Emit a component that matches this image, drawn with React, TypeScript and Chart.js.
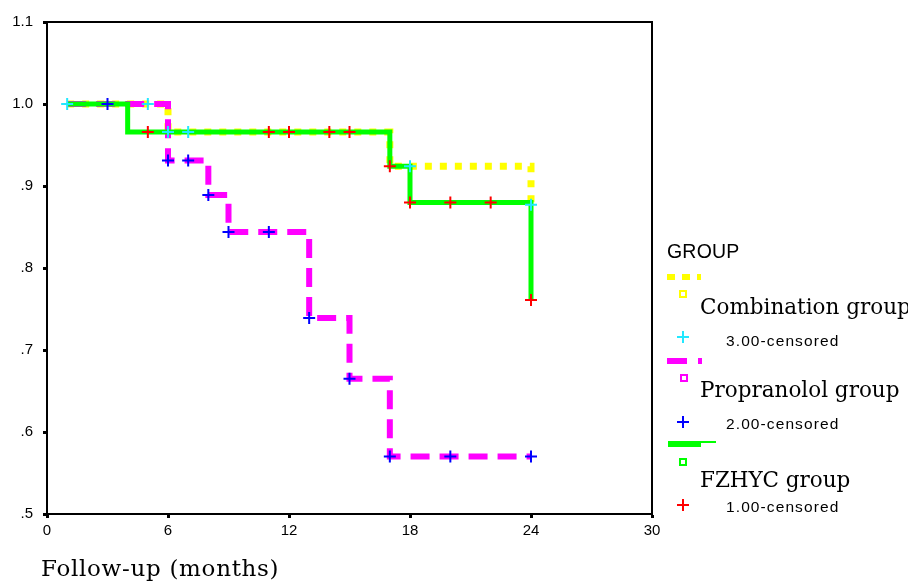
import React, { useEffect, useRef } from 'react';
import { Chart, registerables } from 'chart.js';

Chart.register(...registerables);

// ---- data ----
const xTickValues = [0, 6, 12, 18, 24, 30];
const yTickValues = [0.5, 0.6, 0.7, 0.8, 0.9, 1.0, 1.1];
const yTickLabels = ['.5', '.6', '.7', '.8', '.9', '1.0', '1.1'];

const groupNames = ['Combination group', 'Propranolol group', 'FZHYC group'];
const censorNames = ['3.00-censored', '2.00-censored', '1.00-censored'];

const combinationTimes = [1, 6, 17, 24];
const combinationSurvival = [1.0, 0.966, 0.924, 0.877];
const propranololTimes = [1, 6, 8, 9, 13, 15, 17, 24];
const propranololSurvival = [1.0, 0.931, 0.889, 0.844, 0.739, 0.665, 0.57, 0.57];
const fzhycTimes = [1, 4, 17, 18, 24];
const fzhycSurvival = [1.0, 0.966, 0.924, 0.88, 0.761];

const combinationCensorTimes = [1, 5, 6, 7, 18, 24];
const combinationCensorSurvival = [1.0, 1.0, 0.966, 0.966, 0.924, 0.877];
const propranololCensorTimes = [3, 6, 7, 8, 9, 11, 13, 15, 17, 20, 24];
const propranololCensorSurvival = [1.0, 0.931, 0.931, 0.889, 0.844, 0.844, 0.739, 0.665, 0.57, 0.57, 0.57];
const fzhycCensorTimes = [5, 11, 12, 14, 15, 17, 18, 20, 22, 24];
const fzhycCensorSurvival = [0.966, 0.966, 0.966, 0.966, 0.966, 0.924, 0.88, 0.88, 0.88, 0.761];

const zip = (xs: number[], ys: number[]) => xs.map((x, i) => ({ x, y: ys[i] }));

const YELLOW = '#ffff00';
const MAGENTA = '#ff00ff';
const GREEN = '#00ff00';
const CYAN = '#22e8ff';
const BLUE = '#0000ff';
const RED = '#ff0000';

const framePlugin = {
  id: 'frame',
  afterDraw(chart: any) {
    const { ctx, chartArea } = chart;
    ctx.save();
    ctx.strokeStyle = '#000';
    ctx.lineWidth = 2;
    ctx.beginPath();
    ctx.moveTo(chartArea.left, chartArea.top);
    ctx.lineTo(chartArea.right, chartArea.top);
    ctx.lineTo(chartArea.right, chartArea.bottom);
    ctx.stroke();
    ctx.restore();
  },
};

function Cross({ cx, cy, color }: { cx: number; cy: number; color: string }) {
  return (
    <>
      <div style={{ position: 'absolute', left: cx - 6, top: cy - 1, width: 12, height: 2, background: color }} />
      <div style={{ position: 'absolute', left: cx - 1, top: cy - 6, width: 2, height: 12, background: color }} />
    </>
  );
}

function Box({ x, y, color }: { x: number; y: number; color: string }) {
  return (
    <div
      style={{
        position: 'absolute',
        left: x,
        top: y,
        width: 4,
        height: 4,
        border: `2px solid ${color}`,
      }}
    />
  );
}

function Bar({ x, y, w, h, color }: { x: number; y: number; w: number; h: number; color: string }) {
  return <div style={{ position: 'absolute', left: x, top: y, width: w, height: h, background: color }} />;
}

const serif = '"DejaVu Serif", serif';
const sans = '"Liberation Sans", Arial, sans-serif';

function Label({ text, x, baseline, size, family, spacing }: any) {
  const asc = family === serif ? 0.928 : 0.905;
  const desc = family === serif ? 0.236 : 0.212;
  const lh = size * 1.3;
  const half = (lh - (asc + desc) * size) / 2;
  const top = baseline - (half + asc * size);
  return (
    <div
      style={{
        position: 'absolute',
        left: x,
        top,
        fontFamily: family,
        fontSize: size,
        lineHeight: `${lh}px`,
        letterSpacing: spacing,
        whiteSpace: 'nowrap',
        color: '#000',
      }}
    >
      {text}
    </div>
  );
}

export default function App() {
  const ref = useRef<HTMLCanvasElement | null>(null);

  useEffect(() => {
    if (!ref.current) return;
    const chart = new Chart(ref.current, {
      type: 'line',
      data: {
        datasets: [
          {
            label: 'c3',
            data: zip(combinationCensorTimes, combinationCensorSurvival),
            showLine: false,
            pointStyle: 'cross',
            pointRadius: 6,
            pointBorderWidth: 2,
            pointBorderColor: CYAN,
            pointBackgroundColor: CYAN,
            order: 0,
          },
          {
            label: 'c2',
            data: zip(propranololCensorTimes, propranololCensorSurvival),
            showLine: false,
            pointStyle: 'cross',
            pointRadius: 6,
            pointBorderWidth: 2,
            pointBorderColor: BLUE,
            pointBackgroundColor: BLUE,
            order: 0,
          },
          {
            label: 'c1',
            data: zip(fzhycCensorTimes, fzhycCensorSurvival),
            showLine: false,
            pointStyle: 'cross',
            pointRadius: 6,
            pointBorderWidth: 2,
            pointBorderColor: RED,
            pointBackgroundColor: RED,
            order: 0,
          },
          {
            label: groupNames[2],
            data: zip(fzhycTimes, fzhycSurvival),
            stepped: 'before',
            borderColor: GREEN,
            borderWidth: 5,
            pointRadius: 0,
            borderCapStyle: 'butt',
            borderJoinStyle: 'miter',
            order: 1,
          },
          {
            label: groupNames[1],
            data: zip(propranololTimes, propranololSurvival),
            stepped: 'before',
            borderColor: MAGENTA,
            borderWidth: 6,
            borderDash: [19, 10],
            pointRadius: 0,
            borderCapStyle: 'butt',
            borderJoinStyle: 'miter',
            order: 2,
          },
          {
            label: groupNames[0],
            data: zip(combinationTimes, combinationSurvival),
            stepped: 'before',
            borderColor: YELLOW,
            borderWidth: 7,
            borderDash: [7, 8],
            pointRadius: 0,
            borderCapStyle: 'butt',
            borderJoinStyle: 'miter',
            order: 3,
          },
        ] as any,
      },
      options: {
        animation: false,
        responsive: false,
        devicePixelRatio: 1,
        layout: { padding: { left: 0, top: 22, right: 256, bottom: 0 } },
        plugins: { legend: { display: false }, tooltip: { enabled: false }, title: { display: false } },
        scales: {
          x: {
            type: 'linear',
            min: 0,
            max: 30,
            afterBuildTicks: (s: any) => {
              s.ticks = xTickValues.map((v) => ({ value: v }));
            },
            afterFit: (s: any) => {
              s.height = 70;
            },
            ticks: {
              color: '#000',
              font: { family: 'Liberation Sans', size: 15 },
              padding: 4,
              maxRotation: 0,
              autoSkip: false,
            },
            grid: { drawOnChartArea: false, drawTicks: true, tickLength: 4, tickWidth: 3, tickColor: '#000' },
            border: { display: true, color: '#000', width: 2 },
          },
          y: {
            type: 'linear',
            min: 0.5,
            max: 1.1,
            afterBuildTicks: (s: any) => {
              s.ticks = yTickValues.map((v) => ({ value: v }));
            },
            afterFit: (s: any) => {
              s.width = 47;
            },
            ticks: {
              color: '#000',
              font: { family: 'Liberation Sans', size: 15 },
              padding: 10,
              autoSkip: false,
              callback: (_v: any, i: number) => yTickLabels[i],
            },
            grid: { drawOnChartArea: false, drawTicks: true, tickLength: 4, tickWidth: 3, tickColor: '#000' },
            border: { display: true, color: '#000', width: 2 },
          },
        },
      } as any,
      plugins: [framePlugin],
    });
    return () => chart.destroy();
  }, []);

  return (
    <div style={{ position: 'absolute', left: 0, top: 0, width: 908, height: 584, background: '#fff', overflow: 'hidden' }}>
      <canvas ref={ref} width={908} height={584} style={{ display: 'block', width: 908, height: 584 }} />

      <Label text="Follow-up (months)" x={41} baseline={577} size={23} family={serif} spacing="0.7px" />

      <Label text="GROUP" x={667} baseline={258} size={19.5} family={sans} spacing="0.2px" />

      {/* Combination */}
      <Bar x={667} y={274} w={8} h={6} color={YELLOW} />
      <Bar x={682} y={274} w={8} h={6} color={YELLOW} />
      <Bar x={697} y={274} w={4} h={6} color={YELLOW} />
      <Box x={679} y={290} color={YELLOW} />
      <Label text={groupNames[0]} x={700} baseline={314} size={21.5} family={serif} spacing="0px" />
      <Cross cx={683} cy={337} color={CYAN} />
      <Label text={censorNames[0]} x={726} baseline={346} size={15.5} family={sans} spacing="1.1px" />

      {/* Propranolol */}
      <Bar x={667} y={358} w={20} h={6} color={MAGENTA} />
      <Bar x={698} y={358} w={4} h={6} color={MAGENTA} />
      <Box x={680} y={374} color={MAGENTA} />
      <Label text={groupNames[1]} x={700} baseline={397} size={21.5} family={serif} spacing="0px" />
      <Cross cx={683} cy={422} color={BLUE} />
      <Label text={censorNames[1]} x={726} baseline={429} size={15.5} family={sans} spacing="1.1px" />

      {/* FZHYC */}
      <Bar x={668} y={441} w={33} h={6} color={GREEN} />
      <Bar x={700} y={441} w={16} h={2} color={GREEN} />
      <Box x={679} y={458} color={GREEN} />
      <Label text={groupNames[2]} x={700} baseline={487} size={21.5} family={serif} spacing="0px" />
      <Cross cx={683} cy={505} color={RED} />
      <Label text={censorNames[2]} x={726} baseline={512} size={15.5} family={sans} spacing="1.1px" />
    </div>
  );
}
